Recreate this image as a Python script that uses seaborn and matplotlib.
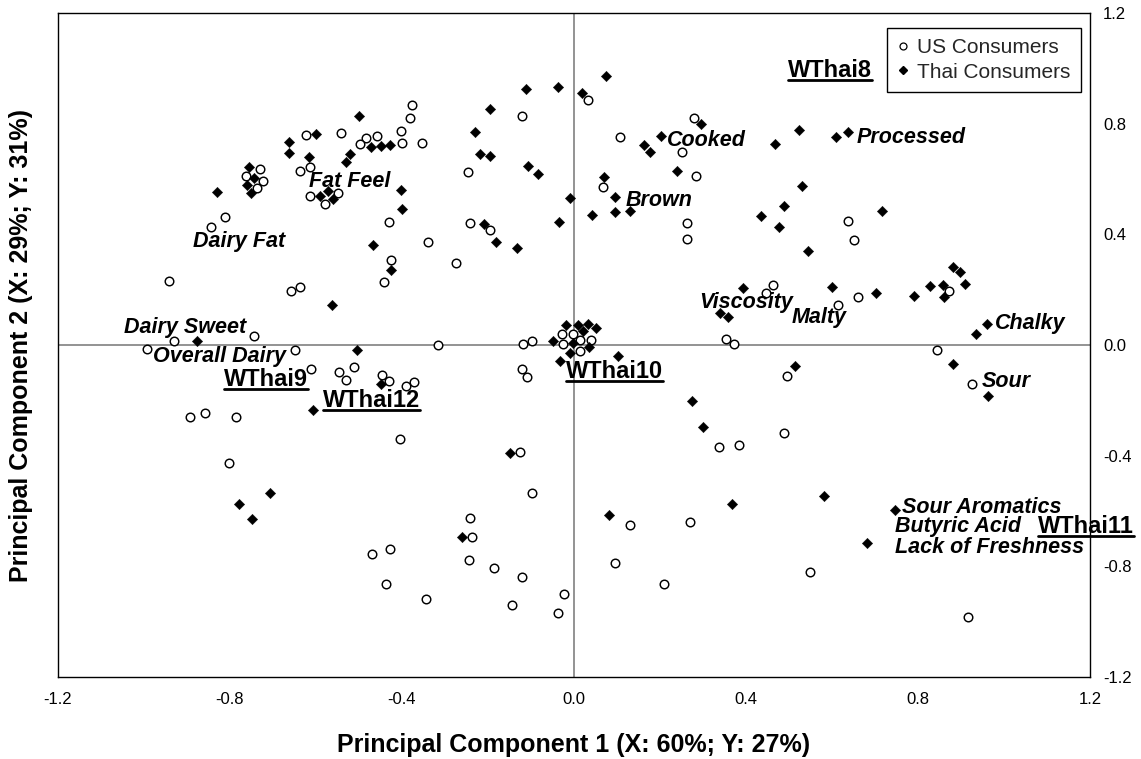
import matplotlib
matplotlib.use("Agg")
import matplotlib.pyplot as plt
import seaborn as sns
import pandas as pd
from matplotlib.lines import Line2D

# ---------------- data ----------------
us_x = [-0.623, -0.543, -0.483, -0.458, -0.498, -0.402, -0.730, -0.763, -0.723, -0.737,
        -0.615, -0.637, -0.613, -0.579, -0.550, -0.812, -0.845, -0.430, -0.377, -0.382,
        -0.399, -0.354, -0.120, -0.247, 0.032, 0.280, 0.106, 0.252, 0.283, 0.067,
        0.263, 0.263, -0.243, -0.196, -0.339, 0.638, 0.652, -0.943, -0.657, -0.638,
        -0.426, -0.441, -0.745, -0.931, -0.993, -0.650, -0.612, -0.547, -0.511, -0.530,
        -0.447, -0.430, -0.391, -0.373, -0.892, -0.857, -0.787, -0.802, -0.405, -0.274,
        0.463, 0.446, 0.354, 0.371, -0.317, -0.119, -0.098, -0.028, -0.003, 0.014,
        0.039, -0.025, 0.014, -0.122, -0.109, -0.125, 0.337, 0.384, 0.613, 0.660,
        0.872, 0.844, 0.495, 0.926, 0.488, -0.470, -0.429, -0.437, -0.097, -0.241,
        -0.238, -0.244, -0.185, -0.122, -0.145, -0.024, -0.037, -0.345, 0.130, 0.095,
        0.269, 0.210, 0.548, 0.916]
us_y = [0.760, 0.767, 0.748, 0.755, 0.726, 0.774, 0.635, 0.611, 0.592, 0.568,
        0.643, 0.630, 0.537, 0.511, 0.549, 0.464, 0.426, 0.445, 0.867, 0.820,
        0.730, 0.731, 0.828, 0.625, 0.885, 0.820, 0.751, 0.696, 0.612, 0.571,
        0.441, 0.384, 0.442, 0.416, 0.371, 0.448, 0.379, 0.231, 0.195, 0.209,
        0.306, 0.227, 0.034, 0.013, -0.016, -0.017, -0.086, -0.098, -0.080, -0.126,
        -0.107, -0.129, -0.147, -0.134, -0.261, -0.245, -0.259, -0.426, -0.340, 0.296,
        0.217, 0.189, 0.022, 0.004, -0.001, 0.005, 0.013, 0.040, 0.040, 0.018,
        0.018, 0.004, -0.023, -0.087, -0.115, -0.388, -0.369, -0.361, 0.145, 0.173,
        0.196, -0.018, -0.113, -0.141, -0.319, -0.756, -0.737, -0.864, -0.534, -0.626,
        -0.695, -0.778, -0.807, -0.837, -0.939, -0.900, -0.967, -0.919, -0.651, -0.788,
        -0.641, -0.864, -0.821, -0.983]

thai_x = [-0.499, -0.662, -0.662, -0.600, -0.616, -0.520, -0.531, -0.472, -0.450, -0.428,
          -0.756, -0.744, -0.760, -0.752, -0.830, -0.590, -0.573, -0.561, -0.403, -0.400,
          -0.467, 0.074, -0.037, -0.112, 0.018, -0.196, -0.230, -0.218, -0.196, -0.106,
          -0.083, -0.010, -0.035, -0.209, -0.181, -0.133, 0.295, 0.202, 0.163, 0.177,
          0.467, 0.069, 0.095, 0.043, 0.095, 0.130, 0.240, 0.435, 0.476, 0.523,
          0.610, 0.638, 0.530, 0.489, 0.716, 0.545, -0.426, -0.562, -0.876, -0.505,
          -0.607, -0.450, 0.393, 0.340, 0.357, -0.019, 0.010, 0.033, 0.052, 0.022,
          -0.048, -0.002, 0.036, -0.010, -0.032, 0.103, 0.275, 0.300, -0.148, 0.601,
          0.702, 0.790, 0.829, 0.881, 0.897, 0.857, 0.860, 0.909, 0.934, 0.960,
          0.514, 0.881, 0.963, -0.706, -0.779, -0.748, -0.261, 0.081, 0.368, 0.581,
          0.747, 0.681]
thai_y = [0.827, 0.732, 0.695, 0.761, 0.679, 0.689, 0.660, 0.717, 0.719, 0.724,
          0.644, 0.605, 0.578, 0.549, 0.553, 0.540, 0.555, 0.527, 0.559, 0.490,
          0.360, 0.971, 0.931, 0.926, 0.910, 0.852, 0.770, 0.689, 0.682, 0.647,
          0.618, 0.531, 0.443, 0.438, 0.373, 0.349, 0.798, 0.756, 0.723, 0.699,
          0.728, 0.607, 0.536, 0.471, 0.481, 0.483, 0.629, 0.466, 0.426, 0.776,
          0.751, 0.769, 0.576, 0.503, 0.483, 0.341, 0.272, 0.146, 0.013, -0.018,
          -0.235, -0.141, 0.205, 0.115, 0.100, 0.071, 0.072, 0.075, 0.060, 0.052,
          0.013, 0.009, -0.008, -0.028, -0.057, -0.040, -0.201, -0.296, -0.389, 0.211,
          0.189, 0.176, 0.213, 0.281, 0.263, 0.218, 0.175, 0.220, 0.039, 0.075,
          -0.075, -0.069, -0.183, -0.536, -0.575, -0.628, -0.695, -0.615, -0.574, -0.545,
          -0.597, -0.714]

attribute_names = ["Fat Feel", "Dairy Fat", "Dairy Sweet", "Overall Dairy", "Cooked",
                   "Brown", "Processed", "Viscosity", "Malty", "Chalky", "Sour",
                   "Sour Aromatics", "Butyric Acid", "Lack of Freshness"]
attribute_x = [-0.616, -0.886, -1.047, -0.979, 0.216, 0.121, 0.658, 0.291, 0.507,
               0.979, 0.949, 0.763, 0.747, 0.747]
attribute_y = [0.571, 0.354, 0.043, -0.061, 0.719, 0.502, 0.730, 0.134, 0.080,
               0.058, -0.152, -0.607, -0.676, -0.752]

sample_names = ["WThai8", "WThai9", "WThai12", "WThai10", "WThai11"]
sample_x = [0.498, -0.814, -0.584, -0.019, 1.079]
sample_y = [0.969, -0.148, -0.224, -0.119, -0.679]

tick_values = [-1.2, -0.8, -0.4, 0.0, 0.4, 0.8, 1.2]
x_title = "Principal Component 1 (X: 60%; Y: 27%)"
y_title = "Principal Component 2 (X: 29%; Y: 31%)"
legend_names = ["US Consumers", "Thai Consumers"]

# ---------------- figure ----------------
sns.set_theme(style="white")
plt.rcParams['font.family'] = ['Liberation Sans', 'DejaVu Sans']

W, H = 1141, 759
fig = plt.figure(figsize=(W / 100, H / 100), dpi=100)
ax = fig.add_axes([58 / W, 1 - 677 / H, (1090 - 58) / W, (677 - 13) / H])

ax.axhline(0, color='#808080', lw=1.2, zorder=1)
ax.axvline(0, color='#808080', lw=1.2, zorder=1)

us_df = pd.DataFrame({'x': us_x, 'y': us_y})
thai_df = pd.DataFrame({'x': thai_x, 'y': thai_y})
sns.scatterplot(data=us_df, x='x', y='y', marker='o', s=38, color='white',
                edgecolor='black', linewidth=1.05, ax=ax, legend=False, zorder=3)
sns.scatterplot(data=thai_df, x='x', y='y', marker='D', s=28, color='black',
                edgecolor='black', linewidth=0.3, ax=ax, legend=False, zorder=3)

ax.set_xlim(-1.2, 1.2)
ax.set_ylim(-1.2, 1.2)
ax.set_xticks(tick_values)
ax.set_xticklabels([f"{v:.1f}" for v in tick_values])
ax.set_yticks(tick_values)
ax.set_yticklabels([f"{v:.1f}" for v in tick_values])
ax.yaxis.tick_right()
ax.tick_params(axis='x', length=0, pad=10.5, labelsize=12, colors='black')
ax.tick_params(axis='y', length=0, pad=9.5, labelsize=12, colors='black')
for sp in ax.spines.values():
    sp.set_visible(True)
    sp.set_color('black')
    sp.set_linewidth(1.0)

ax.set_xlabel(x_title, fontsize=18, fontweight='bold', color='black')
ax.set_ylabel(y_title, fontsize=18, fontweight='bold', color='black')
ax.xaxis.set_label_coords(0.5, (677 - 745) / 664)
ax.xaxis.label.set_va('center')
ax.yaxis.set_label_position('left')
ax.yaxis.set_label_coords((21 - 58) / 1032, 0.5)
ax.yaxis.label.set_va('center')

for name, x, y in zip(attribute_names, attribute_x, attribute_y):
    ax.text(x, y, name, fontsize=15.5, fontweight='bold', fontstyle='italic',
            ha='left', va='baseline', color='black', zorder=4)

sample_texts = []
for name, x, y in zip(sample_names, sample_x, sample_y):
    t = ax.text(x, y, name, fontsize=17, fontweight='bold',
                ha='left', va='baseline', color='black', zorder=4, clip_on=False)
    sample_texts.append(t)

handles = [Line2D([], [], marker='o', ls='', mfc='white', mec='black', ms=5, mew=0.9),
           Line2D([], [], marker='D', ls='', mfc='black', mec='black', ms=3.8)]
leg = ax.legend(handles, legend_names, loc='upper right',
                bbox_to_anchor=((1081 - 58) / 1032, (677 - 28) / 664),
                borderaxespad=0, fontsize=15, frameon=True, fancybox=False,
                edgecolor='black', framealpha=1, handlelength=0.5,
                handletextpad=0.45, borderpad=0.5, labelspacing=0.25)
leg.get_frame().set_linewidth(1.0)

# underline the sample labels
fig.canvas.draw()
renderer = fig.canvas.get_renderer()
for t in sample_texts:
    bb = t.get_window_extent(renderer)
    base_disp = ax.transData.transform(t.get_position())[1]
    yline = base_disp - 3.5
    x0, x1 = bb.x0, bb.x1
    fx0, fy = fig.transFigure.inverted().transform((x0, yline))
    fx1, _ = fig.transFigure.inverted().transform((x1, yline))
    fig.add_artist(Line2D([fx0, fx1], [fy, fy], color='black', lw=2.0,
                          transform=fig.transFigure))

fig.savefig("out.png", dpi=100, facecolor='white')
